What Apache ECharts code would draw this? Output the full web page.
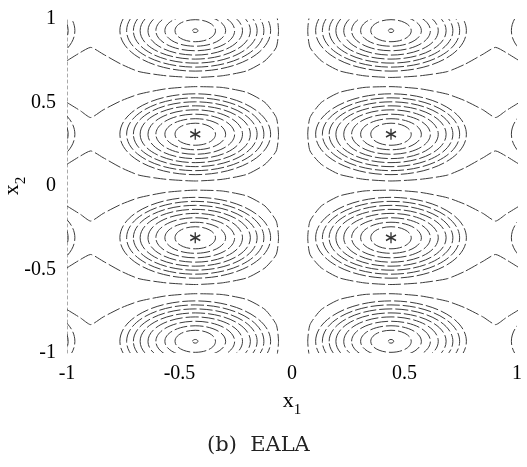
<!DOCTYPE html>
<html>
<head>
<meta charset="utf-8">
<script src="https://cdn.jsdelivr.net/npm/echarts@6/dist/echarts.min.js"></script>
<style>
  html, body { margin: 0; padding: 0; background: #fff; }
  #chart { width: 527px; height: 467px; }
</style>
</head>
<body>
<div id="chart"></div>
<script>
// peak columns (outer ones sit outside the [-1,1] window, only their rims show)
const peakX = [-1.30, -0.43, 0.44, 1.31];
// peak rows
const peakY = [0.93, 0.31, -0.31, -0.93];
// contour rings around every peak: half-width / half-height
const ringRx = [0.09, 0.135, 0.175, 0.21, 0.245, 0.275, 0.305, 0.335];
const ringRy = [0.066, 0.093, 0.12, 0.146, 0.17, 0.194, 0.218, 0.242];
// tiny ring marking the unmarked optima (top and bottom rows)
const dotR = [0.012, 0.011];
// outermost (saddle level) contour, relative to a left-column peak; waist towards the edge
const bandDx = [-0.57, -0.51, -0.465, -0.41, -0.33, -0.25, -0.13, 0.00, 0.12, 0.23, 0.31, 0.36, 0.37,
                0.36, 0.31, 0.23, 0.12, 0.00, -0.13, -0.25, -0.33, -0.41, -0.465, -0.51, -0.57];
const bandDy = [0.19, 0.14, 0.10, 0.145, 0.20, 0.24, 0.272, 0.285, 0.28, 0.25, 0.19, 0.10, 0.0,
                -0.10, -0.18, -0.24, -0.27, -0.28, -0.27, -0.245, -0.20, -0.14, -0.10, -0.13, -0.18];
// optima found by EALA
const starX = [-0.43, 0.44, -0.43, 0.44];
const starY = [0.31, 0.31, -0.31, -0.31];
const axisTicks = [-1, -0.5, 0, 0.5, 1];

const lineColor = '#3c3c3c';
const lineDash = [13, 3];

let ellipses = [];
peakX.forEach(function (cx) {
  peakY.forEach(function (cy) {
    ringRx.forEach(function (rx, i) {
      ellipses.push([cx, cy, rx, ringRy[i]]);
    });
  });
});
[peakY[0], peakY[3]].forEach(function (cy) {
  [peakX[1], peakX[2]].forEach(function (cx) {
    ellipses.push([cx, cy, dotR[0], dotR[1]]);
  });
});

let bandSeries = [];
peakY.forEach(function (cy) {
  [peakX[1], peakX[2]].forEach(function (cx, k) {
    const sign = k === 0 ? 1 : -1;
    const pts = bandDx.map(function (dx, i) {
      return [cx + sign * dx, cy + bandDy[i]];
    });
    bandSeries.push({
      type: 'line',
      data: pts,
      showSymbol: false,
      smooth: 0.2,
      clip: true,
      silent: true,
      lineStyle: { color: lineColor, width: 1, type: lineDash }
    });
  });
});

const chart = echarts.init(document.getElementById('chart'));
const serif = 'Liberation Serif';

const option = {
  backgroundColor: '#fff',
  animation: false,
  grid: { left: 67, right: 10, top: 19, bottom: 114, containLabel: false, outerBoundsMode: 'none' },
  xAxis: {
    type: 'value',
    min: axisTicks[0],
    max: axisTicks[axisTicks.length - 1],
    interval: 0.5,
    axisLine: { show: false },
    axisTick: { show: false },
    splitLine: { show: false },
    axisLabel: { color: '#000', fontFamily: serif, fontSize: 20, margin: 11 },
    name: '{a|x}{b|1}',
    nameLocation: 'middle',
    nameMoveOverlap: false,
    nameGap: 37,
    nameTextStyle: {
      rich: {
        a: { fontFamily: serif, fontSize: 22, color: '#000', verticalAlign: 'bottom', padding: [0, 0, 6, 0] },
        b: { fontFamily: serif, fontSize: 15, color: '#000', verticalAlign: 'bottom' }
      }
    }
  },
  yAxis: {
    type: 'value',
    min: axisTicks[0],
    max: axisTicks[axisTicks.length - 1],
    interval: 0.5,
    axisLine: { show: true, onZero: false, lineStyle: { color: '#aaa', width: 1, type: [3, 3] } },
    axisTick: { show: false },
    splitLine: { show: false },
    axisLabel: { color: '#000', fontFamily: serif, fontSize: 20, margin: 11 },
    name: '{a|x}{b|2}',
    nameLocation: 'middle',
    nameRotate: 90,
    nameMoveOverlap: false,
    nameGap: 38,
    nameTextStyle: {
      rich: {
        a: { fontFamily: serif, fontSize: 22, color: '#000', verticalAlign: 'bottom', padding: [0, 0, 6, 0] },
        b: { fontFamily: serif, fontSize: 15, color: '#000', verticalAlign: 'bottom' }
      }
    }
  },
  graphic: [{
    type: 'text',
    left: 207,
    top: 435,
    style: { text: '(b)  EALA', font: '21px "DejaVu Serif"', fill: '#222' }
  }],
  series: [
    {
      type: 'custom',
      clip: true,
      silent: true,
      data: ellipses,
      renderItem: function (params, api) {
        const c = api.coord([api.value(0), api.value(1)]);
        const s = api.size([api.value(2), api.value(3)]);
        return {
          type: 'ellipse',
          shape: { cx: c[0], cy: c[1], rx: s[0], ry: s[1] },
          style: { fill: 'none', stroke: lineColor, lineWidth: 1, lineDash: lineDash }
        };
      }
    }
  ].concat(bandSeries).concat([
    {
      type: 'scatter',
      data: starX.map(function (x, i) { return [x, starY[i]]; }),
      symbol: 'path://M5,0L5,10M0.7,2.5L9.3,7.5M0.7,7.5L9.3,2.5',
      symbolSize: [10, 11],
      silent: true,
      itemStyle: { color: 'transparent', borderColor: '#000', borderWidth: 1.4 },
      z: 5
    }
  ])
};
chart.setOption(option);
</script>
</body>
</html>
